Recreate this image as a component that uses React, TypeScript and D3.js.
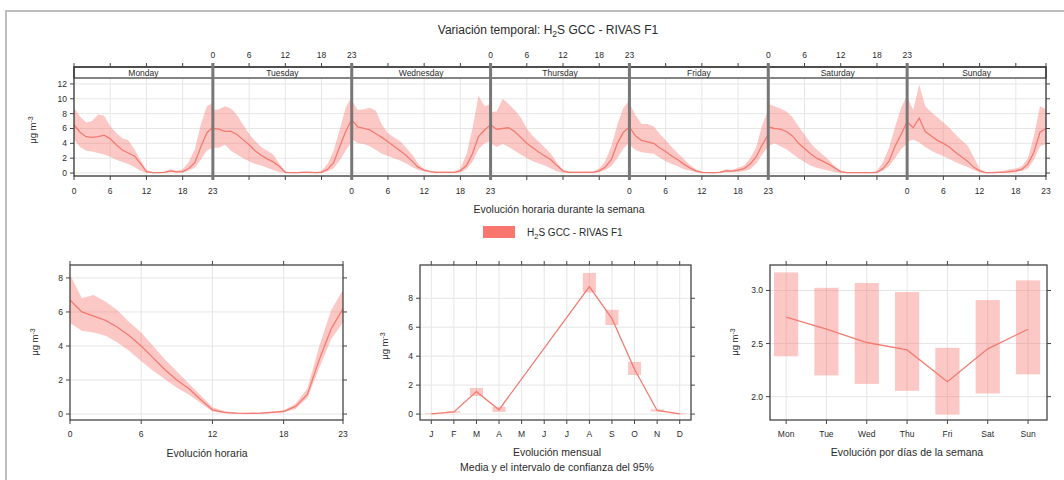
import React from "react";
import * as d3 from "d3";

// ---------- data ----------
const DAYS = ["Monday", "Tuesday", "Wednesday", "Thursday", "Friday", "Saturday", "Sunday"];
const HOURS = [0, 1, 2, 3, 4, 5, 6, 7, 8, 9, 10, 11, 12, 13, 14, 15, 16, 17, 18, 19, 20, 21, 22, 23];
const HOUR_TICKS = [0, 6, 12, 18, 23];
const TOP_Y_TICKS = [0, 2, 4, 6, 8, 10, 12];

const MON_MEAN = [6.5, 5.5, 4.9, 4.8, 4.9, 5.1, 4.6, 3.8, 3.1, 2.7, 2.3, 1.3, 0.2, 0.05, 0.05, 0.1, 0.3, 0.15, 0.2, 0.6, 1.4, 3.5, 5.4, 6.2];
const MON_LO = [4.5, 3.5, 3.0, 2.9, 2.7, 2.5, 2.2, 1.8, 1.5, 1.2, 0.8, 0.3, 0.0, 0.0, 0.0, 0.0, 0.1, 0.05, 0.05, 0.3, 0.7, 1.8, 3.0, 3.4];
const MON_HI = [8.8, 7.6, 6.8, 7.0, 7.9, 7.7, 6.3, 5.4, 4.7, 4.4, 3.2, 1.8, 0.4, 0.1, 0.1, 0.2, 0.5, 0.3, 0.5, 1.5, 3.2, 6.5, 9.0, 9.4];

const TUE_MEAN = [6.0, 5.9, 5.6, 5.6, 5.2, 4.5, 3.8, 3.0, 2.4, 1.9, 1.5, 0.9, 0.1, 0.05, 0.05, 0.1, 0.1, 0.05, 0.1, 0.5, 1.4, 3.5, 5.6, 7.2];
const TUE_LO = [3.4, 3.4, 3.8, 3.0, 2.5, 2.0, 1.6, 1.2, 1.0, 0.7, 0.4, 0.1, 0.0, 0.0, 0.0, 0.0, 0.0, 0.0, 0.02, 0.2, 0.6, 1.7, 3.0, 4.2];
const TUE_HI = [8.5, 8.6, 9.0, 8.7, 7.8, 6.5, 5.3, 4.3, 3.5, 3.0, 2.5, 1.3, 0.2, 0.1, 0.1, 0.2, 0.2, 0.1, 0.3, 1.2, 3.0, 5.8, 8.8, 10.3];

const WED_MEAN = [7.2, 6.2, 6.0, 5.8, 5.3, 4.8, 4.2, 3.6, 3.0, 2.4, 1.6, 0.8, 0.4, 0.2, 0.1, 0.1, 0.1, 0.1, 0.3, 1.0, 2.6, 4.9, 5.8, 6.5];
const WED_LO = [4.6, 4.0, 3.9, 3.6, 3.1, 2.6, 2.3, 2.0, 1.7, 1.3, 0.8, 0.4, 0.2, 0.1, 0.0, 0.0, 0.0, 0.0, 0.1, 0.5, 1.5, 3.2, 4.0, 4.3];
const WED_HI = [9.8, 8.5, 8.6, 8.8, 8.4, 6.5, 5.4, 4.8, 4.3, 3.4, 2.5, 1.3, 0.5, 0.3, 0.2, 0.2, 0.2, 0.2, 0.6, 2.5, 6.0, 10.4, 9.0, 9.3];

const THU_MEAN = [6.5, 5.9, 6.0, 6.1, 5.6, 4.8, 4.0, 3.4, 2.8, 2.3, 1.8, 1.0, 0.3, 0.1, 0.1, 0.1, 0.1, 0.1, 0.3, 0.8, 1.8, 4.0, 5.5, 6.2];
const THU_LO = [4.0, 3.5, 3.9, 3.5, 3.0, 2.5, 2.0, 1.6, 1.3, 1.0, 0.6, 0.2, 0.05, 0.0, 0.0, 0.0, 0.0, 0.0, 0.1, 0.4, 0.9, 2.0, 3.3, 4.1];
const THU_HI = [8.2, 8.3, 10.0, 9.3, 8.5, 7.5, 6.0, 5.0, 4.2, 3.4, 2.6, 1.4, 0.4, 0.2, 0.2, 0.2, 0.2, 0.2, 0.6, 1.6, 3.6, 6.5, 8.8, 9.8];

const FRI_MEAN = [6.2, 5.0, 4.4, 4.2, 4.0, 3.4, 2.9, 2.3, 1.8, 1.2, 0.7, 0.3, 0.1, 0.05, 0.05, 0.1, 0.3, 0.25, 0.4, 0.6, 1.2, 2.2, 3.8, 5.2];
const FRI_LO = [3.8, 3.1, 2.8, 2.7, 2.6, 2.1, 1.6, 1.2, 0.9, 0.5, 0.3, 0.1, 0.0, 0.0, 0.0, 0.0, 0.1, 0.1, 0.15, 0.25, 0.5, 1.3, 2.5, 3.6];
const FRI_HI = [9.4, 7.8, 6.6, 6.6, 6.3, 5.3, 4.4, 3.5, 2.7, 1.9, 1.1, 0.5, 0.2, 0.1, 0.1, 0.2, 0.5, 0.4, 0.7, 1.0, 2.0, 3.5, 6.5, 8.5];

const SAT_MEAN = [6.2, 6.0, 5.9, 5.6, 5.0, 4.0, 3.3, 2.6, 2.0, 1.6, 1.2, 0.7, 0.2, 0.05, 0.05, 0.05, 0.05, 0.05, 0.1, 0.6, 1.6, 3.6, 5.2, 6.9];
const SAT_LO = [3.6, 4.0, 3.6, 3.2, 2.6, 2.0, 1.5, 1.0, 0.7, 0.5, 0.3, 0.1, 0.0, 0.0, 0.0, 0.0, 0.0, 0.0, 0.03, 0.3, 0.9, 2.0, 3.2, 4.0];
const SAT_HI = [9.3, 9.0, 8.7, 8.3, 7.5, 6.3, 5.2, 4.0, 3.2, 2.5, 1.8, 0.9, 0.3, 0.1, 0.1, 0.1, 0.1, 0.1, 0.3, 1.5, 3.4, 6.2, 8.8, 10.5];

const SUN_MEAN = [6.9, 6.1, 7.4, 5.6, 5.0, 4.4, 4.0, 3.5, 2.8, 2.2, 1.6, 0.8, 0.3, 0.05, 0.05, 0.1, 0.1, 0.2, 0.3, 0.5, 1.2, 2.8, 5.5, 6.0];
const SUN_LO = [4.2, 4.5, 4.1, 3.5, 3.0, 2.6, 2.3, 1.9, 1.5, 1.1, 0.8, 0.4, 0.1, 0.0, 0.0, 0.0, 0.0, 0.05, 0.1, 0.3, 0.6, 1.8, 3.6, 3.9];
const SUN_HI = [10.3, 8.5, 11.9, 9.0, 8.2, 7.5, 6.8, 6.1, 5.2, 4.4, 3.7, 2.2, 0.6, 0.1, 0.1, 0.2, 0.3, 0.5, 0.6, 0.9, 2.0, 5.0, 9.0, 8.6];

const HOUR_MEAN = [6.7, 6.0, 5.75, 5.5, 5.1, 4.6, 4.0, 3.3, 2.6, 2.0, 1.5, 0.85, 0.25, 0.1, 0.05, 0.04, 0.05, 0.1, 0.15, 0.45, 1.15, 3.2, 5.0, 6.2];
const HOUR_LO = [5.35, 4.9, 4.8, 4.6, 4.2, 3.7, 3.1, 2.55, 2.05, 1.55, 1.15, 0.65, 0.15, 0.05, 0.02, 0.02, 0.02, 0.05, 0.1, 0.3, 0.95, 2.7, 4.4, 5.4];
const HOUR_HI = [8.2, 6.8, 7.0, 6.6, 6.1, 5.4, 4.8, 4.0, 3.2, 2.5, 1.8, 1.1, 0.4, 0.18, 0.08, 0.06, 0.08, 0.15, 0.22, 0.6, 1.5, 4.0, 6.1, 7.3];
const HOUR_Y_TICKS = [0, 2, 4, 6, 8];

const MONTHS = ["J", "F", "M", "A", "M", "J", "J", "A", "S", "O", "N", "D"];
const MONTH_MEAN = [0.02, 0.15, 1.55, 0.3, null, null, null, 8.8, 6.6, 3.1, 0.25, 0.02];
const MONTH_LO = [0.0, 0.1, 1.25, 0.15, null, null, null, 8.4, 6.15, 2.7, 0.18, 0.0];
const MONTH_HI = [0.05, 0.2, 1.8, 0.5, null, null, null, 9.75, 7.2, 3.6, 0.32, 0.05];
const MONTH_Y_TICKS = [0, 2, 4, 6, 8];

const WEEKDAYS = ["Mon", "Tue", "Wed", "Thu", "Fri", "Sat", "Sun"];
const WD_MEAN = [2.75, 2.635, 2.51, 2.44, 2.14, 2.45, 2.635];
const WD_LO = [2.38, 2.2, 2.12, 2.055, 1.83, 2.03, 2.21];
const WD_HI = [3.17, 3.025, 3.07, 2.985, 2.46, 2.91, 3.095];
const WD_Y_TICKS = [2.0, 2.5, 3.0];

const WEEK = [
  [MON_MEAN, MON_LO, MON_HI],
  [TUE_MEAN, TUE_LO, TUE_HI],
  [WED_MEAN, WED_LO, WED_HI],
  [THU_MEAN, THU_LO, THU_HI],
  [FRI_MEAN, FRI_LO, FRI_HI],
  [SAT_MEAN, SAT_LO, SAT_HI],
  [SUN_MEAN, SUN_LO, SUN_HI],
];

// ---------- style ----------
const LINE = "#F47A70";
const FILL = "#F8766D";
const FONT = "'Liberation Sans', Arial, Helvetica, sans-serif";
const GRID = "#e6e6e6";
const AXIS = "#444";
const TXT = "#2a2a2a";
const TICK_FS = 8.5;
const LAB_FS = 10.5;

function YTitle({ x, y }: { x: number; y: number }) {
  return (
    <text x={x} y={y} transform={`rotate(-90 ${x} ${y})`} textAnchor="middle" fontSize={9.5} fill={TXT} fontFamily={FONT}>
      μg m<tspan dy={-3.5} fontSize={7}>-3</tspan>
    </text>
  );
}

type Box = { l: number; r: number; t: number; b: number };

function Grid({ box, xTicks, yTicks, xs, ys, gridX }: any) {
  const { l, r, t, b } = box;
  return (
    <g>
      {(gridX || xTicks).map((v: number, i: number) => (
        <line key={"gx" + i} x1={xs(v)} x2={xs(v)} y1={t} y2={b} stroke={GRID} strokeWidth={1} />
      ))}
      {yTicks.map((v: number, i: number) => (
        <line key={"gy" + i} x1={l} x2={r} y1={ys(v)} y2={ys(v)} stroke={GRID} strokeWidth={1} />
      ))}
    </g>
  );
}

function FrameAxes({ box, xTicks, yTicks, xs, ys, xLabels, yLabels }: any) {
  const { l, r, t, b } = box;
  return (
    <g fontFamily={FONT} fontSize={TICK_FS} fill={TXT}>
      {xTicks.map((v: number, i: number) => (
        <g key={"xt" + i}>
          <line x1={xs(v)} x2={xs(v)} y1={b} y2={b + 4} stroke={AXIS} />
          <line x1={xs(v)} x2={xs(v)} y1={t - 4} y2={t} stroke={AXIS} />
          <text x={xs(v)} y={b + 16.5} textAnchor="middle">{xLabels[i]}</text>
        </g>
      ))}
      {yTicks.map((v: number, i: number) => (
        <g key={"yt" + i}>
          <line x1={l - 4} x2={l} y1={ys(v)} y2={ys(v)} stroke={AXIS} />
          <line x1={r} x2={r + 4} y1={ys(v)} y2={ys(v)} stroke={AXIS} />
          <text x={l - 7} y={ys(v) + 3} textAnchor="end">{yLabels[i]}</text>
        </g>
      ))}
      <rect x={l} y={t} width={r - l} height={b - t} fill="none" stroke={AXIS} strokeWidth={1.3} />
    </g>
  );
}

export default function App() {
  // ----- top (week) panel -----
  const X0 = 74, X1 = 1046, STRIP_T = 67, STRIP_B = 78, PB = 176;
  const dW = (X1 - X0) / 7;
  const yTop = d3.scaleLinear().domain([-0.4, 12.8]).range([PB, STRIP_B]);
  const dayScales = DAYS.map((_, i) => d3.scaleLinear().domain([0, 23]).range([X0 + i * dW, X0 + (i + 1) * dW]));

  // ----- bottom panels -----
  const B1: Box = { l: 70, r: 343, t: 265, b: 420 };
  const B2: Box = { l: 420, r: 691, t: 265, b: 420 };
  const B3: Box = { l: 770, r: 1047, t: 265, b: 420 };
  const xH = d3.scaleLinear().domain([0, 23]).range([B1.l, B1.r]);
  const yH = d3.scaleLinear().domain([-0.35, 8.76]).range([B1.b, B1.t]);
  const xM = d3.scaleLinear().domain([0.5, 12.5]).range([B2.l, B2.r]);
  const yM = d3.scaleLinear().domain([-0.41, 10.3]).range([B2.b, B2.t]);
  const xW = d3.scaleLinear().domain([0.6, 7.47]).range([B3.l, B3.r]);
  const yW = d3.scaleLinear().domain([1.78, 3.24]).range([B3.b, B3.t]);

  const monthIdx = MONTHS.map((_, i) => i + 1);
  const monthPts = monthIdx
    .map((m, i) => ({ m, v: MONTH_MEAN[i], lo: MONTH_LO[i], hi: MONTH_HI[i] }))
    .filter((d) => d.v !== null) as { m: number; v: number; lo: number; hi: number }[];
  const wdIdx = WEEKDAYS.map((_, i) => i + 1);

  return (
    <svg width={1064} height={480} style={{ position: "absolute", left: 0, top: 0, background: "#fff" }}>
      <rect x={0} y={0} width={1064} height={480} fill="#fff" />
      {/* outer frame */}
      <line x1={6} x2={1064} y1={11} y2={11} stroke="#bdbdbd" strokeWidth={2} />
      <line x1={6} x2={6} y1={10} y2={480} stroke="#bdbdbd" strokeWidth={2} />

      {/* title */}
      <text x={548} y={34} textAnchor="middle" fontSize={12} fontFamily={FONT} fill={TXT}>
        Variación temporal: H<tspan dy={3} fontSize={8.5}>2</tspan><tspan dy={-3}>S GCC - RIVAS F1</tspan>
      </text>

      {/* ===== top panel ===== */}
      <g>
        {TOP_Y_TICKS.map((v) => (
          <line key={"tg" + v} x1={X0} x2={X1} y1={yTop(v)} y2={yTop(v)} stroke={GRID} />
        ))}
        {dayScales.map((xs, i) =>
          [6, 12, 18].map((h) => (
            <line key={`vg${i}-${h}`} x1={xs(h)} x2={xs(h)} y1={STRIP_B} y2={PB} stroke={GRID} />
          ))
        )}
        {WEEK.map(([mean, lo, hi], i) => {
          const xs = dayScales[i];
          const area = d3
            .area<number>()
            .x((h) => xs(h))
            .y0((h) => yTop(lo[h]))
            .y1((h) => yTop(hi[h]));
          const line = d3
            .line<number>()
            .x((h) => xs(h))
            .y((h) => yTop(mean[h]));
          return (
            <g key={"day" + i}>
              <path d={area(HOURS) || ""} fill={FILL} fillOpacity={0.4} />
              <path d={line(HOURS) || ""} fill="none" stroke={LINE} strokeWidth={1.3} />
            </g>
          );
        })}
        {/* strips */}
        <rect x={X0} y={STRIP_T} width={X1 - X0} height={STRIP_B - STRIP_T} fill="#fff" stroke="#333" strokeWidth={1.2} />
        {DAYS.map((d, i) => (
          <text key={"st" + i} x={X0 + (i + 0.5) * dW} y={STRIP_B - 2.3} textAnchor="middle" fontSize={8.5} fontFamily={FONT} fill={TXT}>
            {d}
          </text>
        ))}
        {/* frame */}
        <rect x={X0} y={STRIP_T} width={X1 - X0} height={PB - STRIP_T} fill="none" stroke="#333" strokeWidth={1.3} />
        {/* x ticks */}
        {dayScales.map((xs, i) => (
          <g key={"xa" + i} fontFamily={FONT} fontSize={TICK_FS} fill={TXT}>
            {HOUR_TICKS.map((h) => (
              <g key={h}>
                <line x1={xs(h)} x2={xs(h)} y1={STRIP_T - 4} y2={STRIP_T} stroke={AXIS} />
                <line x1={xs(h)} x2={xs(h)} y1={PB} y2={PB + 4} stroke={AXIS} />
                {i % 2 === 1 ? (
                  <text x={xs(h)} y={57.5} textAnchor="middle">{h}</text>
                ) : (
                  <text x={xs(h)} y={193.5} textAnchor="middle">{h}</text>
                )}
              </g>
            ))}
          </g>
        ))}
        {/* dividers */}
        {DAYS.slice(1).map((_, i) => (
          <line key={"dv" + i} x1={X0 + (i + 1) * dW} x2={X0 + (i + 1) * dW} y1={STRIP_T - 4} y2={PB + 4} stroke="#777" strokeWidth={3} />
        ))}
        {/* y ticks */}
        {TOP_Y_TICKS.map((v) => (
          <g key={"yt" + v} fontFamily={FONT} fontSize={TICK_FS} fill={TXT}>
            <line x1={X0 - 4} x2={X0} y1={yTop(v)} y2={yTop(v)} stroke={AXIS} />
            <line x1={X1} x2={X1 + 4} y1={yTop(v)} y2={yTop(v)} stroke={AXIS} />
            <text x={X0 - 7} y={yTop(v) + 3} textAnchor="end">{v}</text>
          </g>
        ))}
        <YTitle x={36} y={130} />
      </g>

      {/* x label + legend */}
      <text x={559} y={213} textAnchor="middle" fontSize={LAB_FS} fontFamily={FONT} fill={TXT}>
        Evolución horaria durante la semana
      </text>
      <rect x={483} y={226} width={32} height={12} fill={FILL} />
      <text x={527} y={236} fontSize={10} fontFamily={FONT} fill={TXT}>
        H<tspan dy={2.5} fontSize={7.5}>2</tspan><tspan dy={-2.5}>S GCC - RIVAS F1</tspan>
      </text>

      {/* ===== hour panel ===== */}
      <Grid box={B1} xTicks={HOUR_TICKS} gridX={[6, 12, 18]} yTicks={HOUR_Y_TICKS} xs={xH} ys={yH} />
      <path
        d={d3.area<number>().x((h) => xH(h)).y0((h) => yH(HOUR_LO[h])).y1((h) => yH(HOUR_HI[h]))(HOURS) || ""}
        fill={FILL}
        fillOpacity={0.4}
      />
      <path d={d3.line<number>().x((h) => xH(h)).y((h) => yH(HOUR_MEAN[h]))(HOURS) || ""} fill="none" stroke={LINE} strokeWidth={1.3} />
      <FrameAxes box={B1} xTicks={HOUR_TICKS} yTicks={HOUR_Y_TICKS} xs={xH} ys={yH} xLabels={HOUR_TICKS.map(String)} yLabels={HOUR_Y_TICKS.map(String)} />
      <YTitle x={38} y={342} />
      <text x={207} y={457} textAnchor="middle" fontSize={LAB_FS} fontFamily={FONT} fill={TXT}>Evolución horaria</text>

      {/* ===== month panel ===== */}
      <Grid box={B2} xTicks={monthIdx} yTicks={MONTH_Y_TICKS} xs={xM} ys={yM} />
      {monthPts.map((d) => (
        <rect key={"mr" + d.m} x={xM(d.m - 0.29)} width={xM(d.m + 0.29) - xM(d.m - 0.29)} y={yM(d.hi)} height={Math.max(0.5, yM(d.lo) - yM(d.hi))} fill={FILL} fillOpacity={0.4} />
      ))}
      <path d={d3.line<any>().x((d) => xM(d.m)).y((d) => yM(d.v))(monthPts) || ""} fill="none" stroke={LINE} strokeWidth={1.3} />
      <FrameAxes box={B2} xTicks={monthIdx} yTicks={MONTH_Y_TICKS} xs={xM} ys={yM} xLabels={MONTHS} yLabels={MONTH_Y_TICKS.map(String)} />
      <YTitle x={388} y={346} />
      <text x={557} y={456} textAnchor="middle" fontSize={LAB_FS} fontFamily={FONT} fill={TXT}>Evolución mensual</text>
      <text x={557} y={471} textAnchor="middle" fontSize={LAB_FS} fontFamily={FONT} fill={TXT}>Media y el intervalo de confianza del 95%</text>

      {/* ===== weekday panel ===== */}
      <Grid box={B3} xTicks={wdIdx} yTicks={WD_Y_TICKS} xs={xW} ys={yW} />
      {wdIdx.map((d, i) => (
        <rect key={"wr" + d} x={xW(d - 0.3)} width={xW(d + 0.3) - xW(d - 0.3)} y={yW(WD_HI[i])} height={yW(WD_LO[i]) - yW(WD_HI[i])} fill={FILL} fillOpacity={0.4} />
      ))}
      <path d={d3.line<number>().x((d) => xW(d)).y((d, i) => yW(WD_MEAN[i]))(wdIdx) || ""} fill="none" stroke={LINE} strokeWidth={1.3} />
      <FrameAxes box={B3} xTicks={wdIdx} yTicks={WD_Y_TICKS} xs={xW} ys={yW} xLabels={WEEKDAYS} yLabels={WD_Y_TICKS.map((v) => v.toFixed(1))} />
      <YTitle x={738} y={342} />
      <text x={907} y={456} textAnchor="middle" fontSize={LAB_FS} fontFamily={FONT} fill={TXT}>Evolución por días de la semana</text>
    </svg>
  );
}
